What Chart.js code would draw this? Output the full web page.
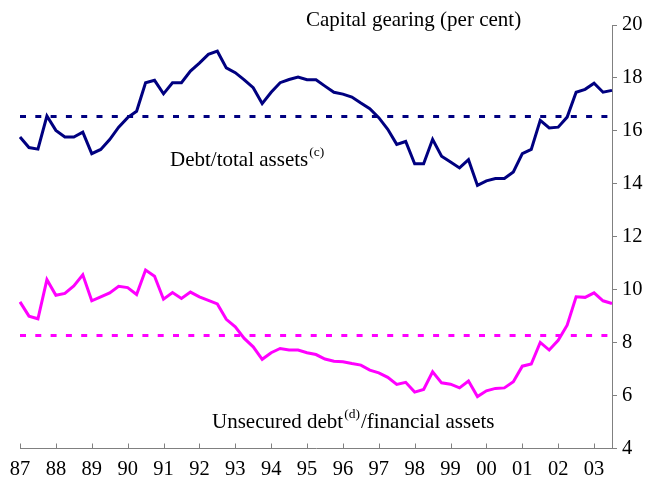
<!DOCTYPE html>
<html>
<head>
<meta charset="utf-8">
<script src="https://cdn.jsdelivr.net/npm/chart.js@4"></script>
<style>
  html, body { margin: 0; padding: 0; background: #fff; }
  #wrap { width: 651px; height: 488px; }
</style>
</head>
<body>
<div id="wrap"><canvas id="chart" width="651" height="488"></canvas></div>
<script>
// quarterly, 1987 Q1 to 2003 Q3
const years = ["87", "88", "89", "90", "91", "92", "93", "94", "95", "96", "97", "98", "99", "00", "01", "02", "03"];
const lastYearQuarters = 3;

// Debt/total assets (c)
const debtTotalAssets = [
    15.77, 15.37, 15.31, 16.56, 16.02, 15.77, 15.77, 15.95,
    15.14, 15.30, 15.67, 16.14, 16.50, 16.74, 17.82, 17.91,
    17.40, 17.82, 17.82, 18.26, 18.56, 18.89, 19.01, 18.38,
    18.20, 17.93, 17.63, 17.03, 17.46, 17.82, 17.94, 18.03,
    17.93, 17.93, 17.69, 17.46, 17.39, 17.28, 17.05, 16.84,
    16.50, 16.06, 15.49, 15.60, 14.76, 14.76, 15.68, 15.04,
    14.82, 14.60, 14.91, 13.94, 14.11, 14.20, 14.20, 14.45,
    15.14, 15.30, 16.40, 16.11, 16.14, 16.52, 17.46, 17.57,
    17.80, 17.46, 17.53
];

// Unsecured debt (d) / financial assets
const unsecuredDebt = [
    9.54, 9.00, 8.90, 10.38, 9.79, 9.86, 10.14, 10.56,
    9.58, 9.73, 9.88, 10.13, 10.08, 9.82, 10.74, 10.51,
    9.64, 9.89, 9.67, 9.91, 9.73, 9.60, 9.46, 8.88,
    8.60, 8.16, 7.84, 7.37, 7.62, 7.78, 7.72, 7.72,
    7.62, 7.55, 7.38, 7.30, 7.28, 7.21, 7.15, 6.96,
    6.86, 6.69, 6.42, 6.50, 6.13, 6.23, 6.90, 6.48,
    6.43, 6.29, 6.55, 5.96, 6.18, 6.27, 6.29, 6.52,
    7.11, 7.19, 8.01, 7.72, 8.09, 8.66, 9.73, 9.71,
    9.88, 9.58, 9.48
];

// period averages (dashed lines)
const debtAverage = 16.54;
const unsecuredAverage = 8.27;

const yTicks = [4, 6, 8, 10, 12, 14, 16, 18, 20];

const NAVY = "#000080";
const MAGENTA = "#ff00ff";
const AXIS = "#808080";
const FONT = "'Liberation Serif', 'DejaVu Serif', serif";

const quarters = [];
years.forEach((y, i) => {
    const n = i === years.length - 1 ? lastYearQuarters : 4;
    for (let q = 1; q <= n; q++) quarters.push(y + " Q" + q);
});
const firstQ = quarters[0];
const lastQ = quarters[quarters.length - 1];

// year tick marks pointing up into the plot, and the text annotations
const extras = {
    id: "extras",
    afterDraw(chart) {
        const ctx = chart.ctx;
        const x = chart.scales.x;
        const bottom = chart.chartArea.bottom;
        ctx.save();
        ctx.strokeStyle = AXIS;
        ctx.lineWidth = 1;
        quarters.forEach((q, i) => {
            if (!q.endsWith("Q1")) return;
            const px = Math.round(x.getPixelForValue(i)) + 0.5;
            ctx.beginPath();
            ctx.moveTo(px, bottom);
            ctx.lineTo(px, bottom - 5);
            ctx.stroke();
        });

        ctx.fillStyle = "#000";
        ctx.textBaseline = "alphabetic";
        ctx.textAlign = "left";
        const main = "21px " + FONT;
        const sup = "13.5px " + FONT;

        ctx.font = main;
        ctx.fillText("Capital gearing (per cent)", 306, 26);

        ctx.fillText("Debt/total assets", 170, 166);
        let w = ctx.measureText("Debt/total assets").width;
        ctx.font = sup;
        ctx.fillText("(c)", 170 + w + 1, 156);

        ctx.font = main;
        ctx.fillText("Unsecured debt", 212, 428);
        w = ctx.measureText("Unsecured debt").width;
        ctx.font = sup;
        ctx.fillText("(d)", 212 + w + 1, 418);
        const w2 = ctx.measureText("(d)").width;
        ctx.font = main;
        ctx.fillText("/financial assets", 212 + w + w2 + 2, 428);
        ctx.restore();
    }
};

new Chart(document.getElementById("chart"), {
    type: "line",
    data: {
        labels: quarters,
        datasets: [
            {
                label: "Debt/total assets",
                data: debtTotalAssets,
                borderColor: NAVY,
                borderWidth: 3,
                pointRadius: 0,
                tension: 0
            },
            {
                label: "Unsecured debt/financial assets",
                data: unsecuredDebt,
                borderColor: MAGENTA,
                borderWidth: 3,
                pointRadius: 0,
                tension: 0
            },
            {
                label: "Debt average",
                data: [{ x: firstQ, y: debtAverage }, { x: lastQ, y: debtAverage }],
                borderColor: NAVY,
                borderWidth: 3,
                borderDash: [6, 9.3],
                pointRadius: 0
            },
            {
                label: "Unsecured average",
                data: [{ x: firstQ, y: unsecuredAverage }, { x: lastQ, y: unsecuredAverage }],
                borderColor: MAGENTA,
                borderWidth: 3,
                borderDash: [6, 9.3],
                pointRadius: 0
            }
        ]
    },
    options: {
        responsive: false,
        animation: false,
        layout: { padding: { left: 20, top: 25, right: 0, bottom: 0 } },
        plugins: {
            legend: { display: false },
            tooltip: { enabled: false }
        },
        scales: {
            x: {
                type: "category",
                offset: false,
                grid: { display: false, drawTicks: false },
                border: { display: true, color: AXIS, width: 1 },
                ticks: {
                    autoSkip: false,
                    maxRotation: 0,
                    padding: 9,
                    color: "#000",
                    font: { family: FONT, size: 20.5 },
                    callback: (v, i) => quarters[i].endsWith("Q1") ? quarters[i].slice(0, 2) : ""
                },
                afterFit: (s) => { s.height = 39.5; }
            },
            y: {
                position: "right",
                min: 4,
                max: 20,
                afterBuildTicks: (s) => { s.ticks = yTicks.map(v => ({ value: v })); },
                grid: { drawOnChartArea: false, tickLength: 5, color: AXIS },
                border: { display: true, color: AXIS, width: 1 },
                ticks: {
                    padding: 5,
                    color: "#000",
                    font: { family: FONT, size: 20.5 }
                },
                afterFit: (s) => { s.width = 39; }
            }
        }
    },
    plugins: [extras]
});
</script>
</body>
</html>
